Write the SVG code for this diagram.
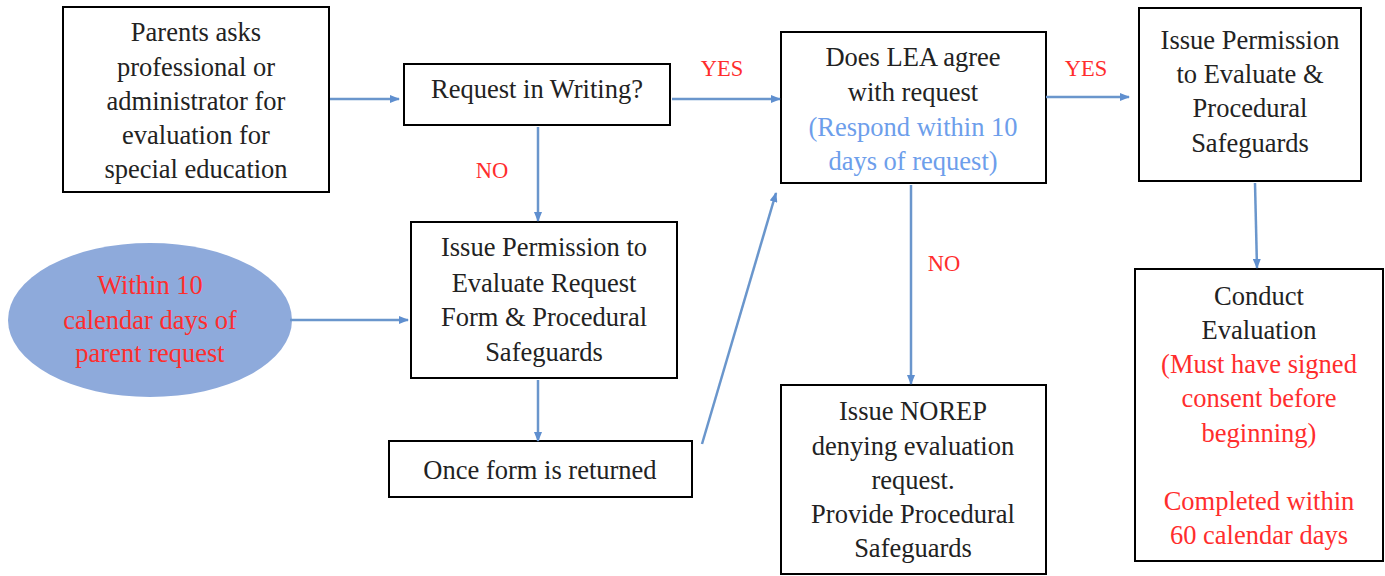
<svg xmlns="http://www.w3.org/2000/svg" width="1385" height="576" viewBox="0 0 1385 576">
<defs>
<marker id="ah" markerWidth="10" markerHeight="8" refX="9" refY="4" orient="auto" markerUnits="userSpaceOnUse">
<path d="M0,0 L10,4 L0,8 z" fill="#5f8fcf"/>
</marker>
</defs>
<style>
text{font-family:'Liberation Serif','Times New Roman','DejaVu Serif',serif}
.box{fill:#fff;stroke:#000;stroke-width:2}
.t{font-size:26.5px;text-anchor:middle;fill:#222}
.red{fill:#ff2d2d}
.blue{fill:#6d9eeb}
.lbl{font-size:22.5px;text-anchor:middle;fill:#ff2d2d}
.c{stroke:#6a96cc;stroke-width:2.5;fill:none;marker-end:url(#ah)}
</style>
<rect width="1385" height="576" fill="#fff"/>
<g id="n1">
<rect class="box" x="63" y="7" width="266" height="185"/>
<text class="t" x="196" y="41">Parents asks</text>
<text class="t" x="196" y="76">professional or</text>
<text class="t" x="196" y="110">administrator for</text>
<text class="t" x="196" y="144">evaluation for</text>
<text class="t" x="196" y="178">special education</text>
</g>
<g id="n2">
<rect class="box" x="404" y="64" width="266" height="61"/>
<text class="t" x="537" y="98">Request in Writing?</text>
</g>
<g id="n3">
<rect class="box" x="411" y="222" width="266" height="156"/>
<text class="t" x="544" y="256">Issue Permission to</text>
<text class="t" x="544" y="292">Evaluate Request</text>
<text class="t" x="544" y="326">Form &amp; Procedural</text>
<text class="t" x="544" y="361">Safeguards</text>
</g>
<g id="n4">
<ellipse cx="150" cy="320" rx="142" ry="77" fill="#8eaadb"/>
<text class="t red" x="150" y="294">Within 10</text>
<text class="t red" x="150" y="329">calendar days of</text>
<text class="t red" x="150" y="362">parent request</text>
</g>
<g id="n5">
<rect class="box" x="389" y="441" width="303" height="56"/>
<text class="t" x="540" y="479">Once form is returned</text>
</g>
<g id="n6">
<rect class="box" x="781" y="32" width="265" height="151"/>
<text class="t" x="913" y="66">Does LEA agree</text>
<text class="t" x="913" y="101">with request</text>
<text class="t blue" x="913" y="136">(Respond within 10</text>
<text class="t blue" x="913" y="170">days of request)</text>
</g>
<g id="n7">
<rect class="box" x="1139" y="8" width="222" height="173"/>
<text class="t" x="1250" y="49">Issue Permission</text>
<text class="t" x="1250" y="83">to Evaluate &amp;</text>
<text class="t" x="1250" y="117">Procedural</text>
<text class="t" x="1250" y="152">Safeguards</text>
</g>
<g id="n8">
<rect class="box" x="781" y="385" width="265" height="189"/>
<text class="t" x="913" y="420">Issue NOREP</text>
<text class="t" x="913" y="455">denying evaluation</text>
<text class="t" x="913" y="489">request.</text>
<text class="t" x="913" y="523">Provide Procedural</text>
<text class="t" x="913" y="557">Safeguards</text>
</g>
<g id="n9">
<rect class="box" x="1135" y="269" width="248" height="292"/>
<text class="t" x="1259" y="305">Conduct</text>
<text class="t" x="1259" y="339">Evaluation</text>
<text class="t red" x="1259" y="373">(Must have signed</text>
<text class="t red" x="1259" y="407">consent before</text>
<text class="t red" x="1259" y="442">beginning)</text>
<text class="t red" x="1259" y="510">Completed within</text>
<text class="t red" x="1259" y="544">60 calendar days</text>
</g>
<g id="connectors">
<line class="c" x1="330" y1="99" x2="399" y2="99"/>
<line class="c" x1="672" y1="99" x2="780" y2="99"/>
<line class="c" x1="1046" y1="97" x2="1129" y2="97"/>
<line class="c" x1="538" y1="127" x2="538" y2="221"/>
<line class="c" x1="290" y1="320" x2="408" y2="320"/>
<line class="c" x1="538" y1="380" x2="538" y2="441"/>
<line class="c" x1="702" y1="444" x2="776" y2="193"/>
<line class="c" x1="911" y1="185" x2="911" y2="384"/>
<line class="c" x1="1255" y1="183" x2="1257" y2="268"/>
<text class="lbl" x="722" y="76">YES</text>
<text class="lbl" x="1086" y="76">YES</text>
<text class="lbl" x="492" y="178">NO</text>
<text class="lbl" x="944" y="271">NO</text>
</g>
</svg>
